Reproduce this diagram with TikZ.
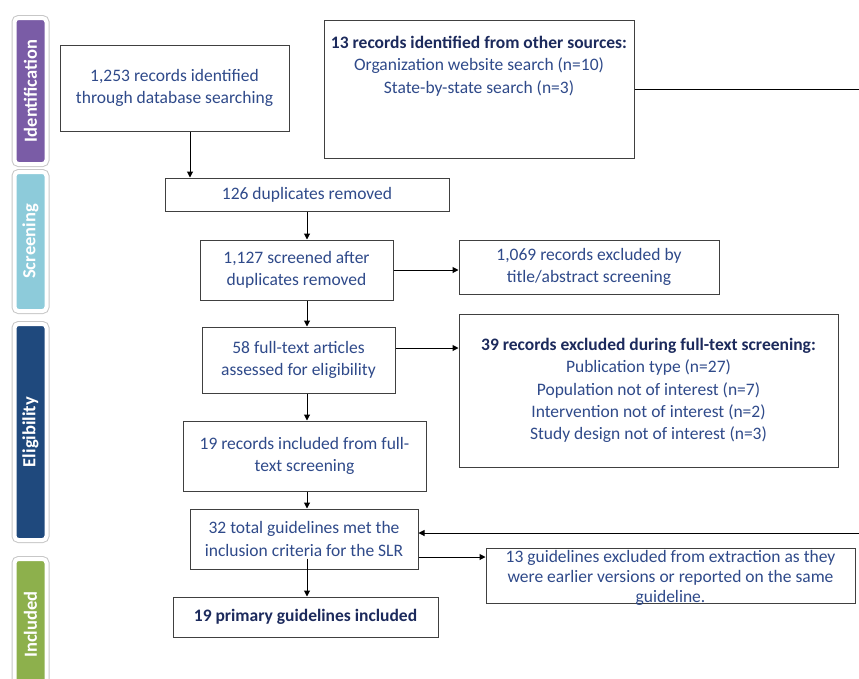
\documentclass[tikz,border=0pt]{standalone}
\usepackage{fontspec}
\setmainfont{Carlito}
\usetikzlibrary{positioning, arrows.meta, calc}
\definecolor{txtblue}{RGB}{47,74,138}
\definecolor{hdblue}{RGB}{28,42,92}
\definecolor{stpurple}{RGB}{122,92,166}
\definecolor{stcyan}{RGB}{141,203,218}
\definecolor{stnavy}{RGB}{31,73,125}
\definecolor{stgreen}{RGB}{141,176,76}
\newcommand{\hdline}[1]{\textbf{\color{hdblue}#1}}

\begin{document}
\begin{tikzpicture}[x=1pt, y=-1pt]
	\tikzset{
		box/.style={draw=black!75, line width=1pt, fill=white, align=center, text=txtblue, font=\fontsize{17.5}{22.3}\selectfont, inner sep=2pt},
		flow/.style={-{Triangle[length=6pt,width=6pt]}, line width=1pt},
		stagebar/.style={rotate=90, rounded corners=4pt, minimum height=32pt, text=white, font=\fontsize{18.5}{20}\selectfont\bfseries, preaction={draw=black!22, line width=6pt}, draw=white, line width=4pt}
	}
	\useasboundingbox (0,0) rectangle (859,678);
	% stage bars on the left
	\foreach \name/\lbl/\col/\cy/\len in {idbar/Identification/stpurple/91/146, scbar/Screening/stcyan/241.5/139, elbar/Eligibility/stnavy/432/216, inbar/Included/stgreen/624.5/131} {
		\node[stagebar, fill=\col, minimum width=\len pt] (\name) at (30.5,\cy) {\lbl};
	}
	% boxes
	\node[box, minimum width=229pt, minimum height=86pt] (dbsearch) at (174.5,88) {1,253 records identified\\through database searching};
	\node[box, minimum width=310pt, minimum height=138pt] (othersrc) at (479,89) {};
	\node[anchor=north, align=center, text=txtblue, font=\fontsize{17.5}{22.5}\selectfont, inner sep=0pt] (othertxt) at ([yshift=-16pt]othersrc.north) {\hdline{13 records identified from other sources:}\\Organization website search (n=10)\\State-by-state search (n=3)};
	\node[box, minimum width=284pt, minimum height=33pt] (dupes) at (307,194.5) {126 duplicates removed};
	\node[box, minimum width=193pt, minimum height=60pt] (screened) at (296.5,270) {1,127 screened after\\duplicates removed};
	\node[box, minimum width=260pt, minimum height=54pt] (titleexcl) at (589,267) {1,069 records excluded by\\title/abstract screening};
	\node[box, minimum width=193pt, minimum height=66pt] (fulltext) at (298.5,360) {58 full-text articles\\assessed for eligibility};
	\node[box, minimum width=379pt, minimum height=153pt] (ftexcl) at (648.5,390.5) {\hdline{39 records excluded during full-text screening:}\\Publication type (n=27)\\Population not of interest (n=7)\\Intervention not of interest (n=2)\\Study design not of interest (n=3)};
	\node[box, minimum width=243pt, minimum height=70pt] (ftincl) at (304.5,456) {19 records included from full-\\text screening};
	\node[box, minimum width=228pt, minimum height=60pt] (guidetot) at (304,539) {32 total guidelines met the\\inclusion criteria for the SLR};
	\node[box, minimum width=369pt, minimum height=55pt] (guidexcl) at (670.5,575.5) {};
	\node[align=center, text=txtblue, font=\fontsize{17.5}{20}\selectfont, inner sep=0pt] (guidetxt) at ($(guidexcl.center)+(0,2)$) {13 guidelines excluded from extraction as they\\were earlier versions or reported on the same\\guideline.};
	\node[box, minimum width=265pt, minimum height=40pt, font=\fontsize{17.5}{22}\selectfont\bfseries, text=hdblue] (primary) at (305.5,617) {19 primary guidelines included};
	% connectors
	\coordinate (rim) at (874,0);
	\coordinate (ftout) at ($(fulltext.east)+(0,-12)$);
	\coordinate (crit) at ($(guidetot.south -| dupes.south)+(0,-11)$);
	\coordinate (guideout) at ($(guidetot.east)+(0,18)$);
	\coordinate (guidein) at ($(guidetot.east)+(0,-6)$);
	\draw[flow] ([xshift=15.5pt]dbsearch.south) -- ([xshift=15.5pt]dbsearch.south |- dupes.north);
	\draw[flow] (dupes.south) -- (dupes.south |- screened.north);
	\draw[flow] (screened.south -| dupes.south) -- (fulltext.north -| dupes.south);
	\draw[flow] (screened.east) -- (titleexcl.west |- screened.east);
	\draw[flow] (ftout) -- (ftexcl.west |- ftout);
	\draw[flow] (fulltext.south -| dupes.south) -- (ftincl.north -| dupes.south);
	\draw[flow] (ftincl.south -| dupes.south) -- (guidetot.north -| dupes.south);
	\draw[flow] (crit) -- (primary.north -| crit);
	\draw[flow] (guideout) -- (guidexcl.west |- guideout);
	\draw[flow] (othersrc.east) -- (othersrc.east -| rim) |- (guidein);
\end{tikzpicture}
\end{document}
